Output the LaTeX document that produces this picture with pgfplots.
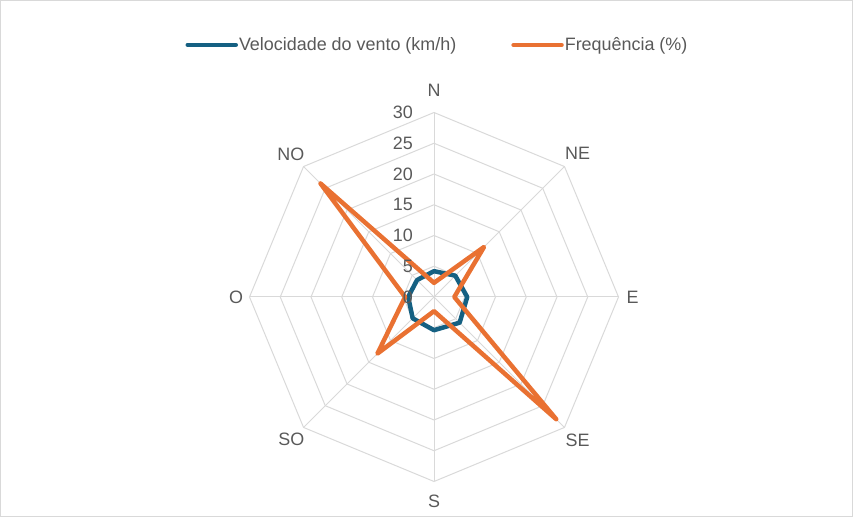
\documentclass[border=0pt]{standalone}
\usepackage{pgfplots}
\pgfplotsset{compat=1.18}
\usepgfplotslibrary{polar}
\usepackage{fontspec}
\setmainfont{Liberation Sans}
\definecolor{cblue}{HTML}{156082}
\definecolor{corange}{HTML}{E97132}
\definecolor{cgrid}{HTML}{D9D9D9}
\definecolor{ctext}{HTML}{595959}
\begin{document}
\begin{tikzpicture}[x=1bp,y=1bp,font=\fontsize{18}{21}\selectfont]
\path[use as bounding box] (0,0) rectangle (853,517);
\draw[cgrid, line width=1bp] (0.5,0.5) rectangle (852.5,516.5);
\begin{polaraxis}[
  at={(434bp,220bp)}, anchor=center,
  scale only axis, width=369bp, height=369bp,
  hide axis, clip=false,
  xmin=0, xmax=360, ymin=0, ymax=30,
  legend columns=2,
  legend cell align=left,
  legend style={draw=none, fill=none, at={(0.508,1.183)}, anchor=center,
    text=ctext, font=\fontsize{18}{21}\selectfont,
    /tikz/every even column/.append style={column sep=54bp},
    nodes={inner xsep=1bp}},
  legend image code/.code={\draw[#1, line cap=round] (0bp,0bp) -- (48bp,0bp);},
]
% grid octagons
\addplot[cgrid, line width=1bp, forget plot] coordinates {(90,5)(45,5)(0,5)(315,5)(270,5)(225,5)(180,5)(135,5)(90,5)};
\addplot[cgrid, line width=1bp, forget plot] coordinates {(90,10)(45,10)(0,10)(315,10)(270,10)(225,10)(180,10)(135,10)(90,10)};
\addplot[cgrid, line width=1bp, forget plot] coordinates {(90,15)(45,15)(0,15)(315,15)(270,15)(225,15)(180,15)(135,15)(90,15)};
\addplot[cgrid, line width=1bp, forget plot] coordinates {(90,20)(45,20)(0,20)(315,20)(270,20)(225,20)(180,20)(135,20)(90,20)};
\addplot[cgrid, line width=1bp, forget plot] coordinates {(90,25)(45,25)(0,25)(315,25)(270,25)(225,25)(180,25)(135,25)(90,25)};
\addplot[cgrid, line width=1bp, forget plot] coordinates {(90,30)(45,30)(0,30)(315,30)(270,30)(225,30)(180,30)(135,30)(90,30)};
% spokes
\addplot[cgrid, line width=1bp, forget plot] coordinates {(90,0)(90,30)};
\addplot[cgrid, line width=1bp, forget plot] coordinates {(45,0)(45,30)};
\addplot[cgrid, line width=1bp, forget plot] coordinates {(0,0)(0,30)};
\addplot[cgrid, line width=1bp, forget plot] coordinates {(315,0)(315,30)};
\addplot[cgrid, line width=1bp, forget plot] coordinates {(270,0)(270,30)};
\addplot[cgrid, line width=1bp, forget plot] coordinates {(225,0)(225,30)};
\addplot[cgrid, line width=1bp, forget plot] coordinates {(180,0)(180,30)};
\addplot[cgrid, line width=1bp, forget plot] coordinates {(135,0)(135,30)};
% data: N NE E SE S SO O NO
\addplot[cblue, line width=4.5bp, line join=round, line cap=round, mark=none] coordinates {(90,4.2)(45,4.9)(0,5.4)(315,5.9)(270,5.4)(225,4.9)(180,4.2)(135,3.9)(90,4.2)};
\addlegendentry{Velocidade do vento (km/h)}
\addplot[corange, line width=4.5bp, line join=round, line cap=round, mark=none] coordinates {(90,2.3)(45,11.5)(0,3.3)(315,28.1)(270,2.3)(225,13)(180,4.7)(135,26.1)(90,2.3)};
\addlegendentry{Frequência (\%)}
% radial tick labels
\node[anchor=east, text=ctext, inner sep=0pt, xshift=-21bp] at (axis cs:90,0) {0};
\node[anchor=east, text=ctext, inner sep=0pt, xshift=-21bp] at (axis cs:90,5) {5};
\node[anchor=east, text=ctext, inner sep=0pt, xshift=-21bp] at (axis cs:90,10) {10};
\node[anchor=east, text=ctext, inner sep=0pt, xshift=-21bp] at (axis cs:90,15) {15};
\node[anchor=east, text=ctext, inner sep=0pt, xshift=-21bp] at (axis cs:90,20) {20};
\node[anchor=east, text=ctext, inner sep=0pt, xshift=-21bp] at (axis cs:90,25) {25};
\node[anchor=east, text=ctext, inner sep=0pt, xshift=-21bp] at (axis cs:90,30) {30};
% category labels
\node[text=ctext] at (axis cs:90,33.6) {N};
\node[text=ctext] at (axis cs:45,33) {NE};
\node[text=ctext] at (axis cs:0,32.3) {E};
\node[text=ctext] at (axis cs:315,33) {SE};
\node[text=ctext] at (axis cs:270,33.2) {S};
\node[text=ctext] at (axis cs:225,32.8) {SO};
\node[text=ctext] at (axis cs:180,32.2) {O};
\node[text=ctext] at (axis cs:135,32.9) {NO};
\end{polaraxis}
\end{tikzpicture}
\end{document}
